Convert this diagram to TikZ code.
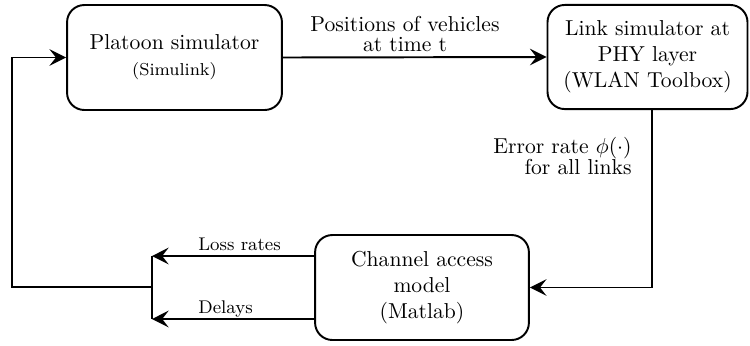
\documentclass[tikz,border=0pt]{standalone}
\usetikzlibrary{arrows.meta,calc}
\begin{document}
\begin{tikzpicture}[x=0.463pt,y=-0.463pt,
 blk/.style={draw,line width=0.9pt,rounded corners=8pt,align=center,inner sep=0pt},
 conn/.style={line width=0.9pt},
 arr/.style={conn,-{Stealth[length=7.7pt,width=7.7pt,inset=3pt]}},
 lab/.style={align=center,inner sep=0pt,font=\fontsize{10}{9}\selectfont},
 smalllab/.style={inner sep=0pt,anchor=base west,font=\fontsize{8.5}{10}\selectfont}]
\useasboundingbox (0,0) rectangle (750,345);
\node[blk,minimum width=99.5pt,minimum height=48.6pt] (plat) at (174.5,57.5) {Platoon simulator\\{\footnotesize(Simulink)}};
\node[blk,minimum width=92.6pt,minimum height=48.2pt] (link) at (647.5,57) {Link simulator at\\PHY layer\\(WLAN Toolbox)};
\node[blk,minimum width=99pt,minimum height=48.6pt] (chan) at (422,287.5) {Channel access\\model\\(Matlab)};
\draw[arr] (plat.east) -- (link.west);
\node[lab] (pos) at (405,34) {Positions of vehicles\\at time t};
\coordinate (ls) at ($(link.south)+(4.5,0)$);
\draw[arr] (ls) |- (chan.east);
\node[lab,align=right,anchor=east,font=\fontsize{10}{9.7}\selectfont] (err) at (632,156) {Error rate $\phi(\cdot)$\\for all links};
\coordinate (lt) at (152,256);
\coordinate (lb) at (152,319);
\draw[arr] (chan.west |- lt) -- (lt);
\draw[arr] (chan.west |- lb) -- (lb);
\draw[conn] (lt) -- (lb);
\coordinate (lm) at (152,287);
\coordinate (fb) at (12,287);
\draw[arr] (lm) -- (fb) |- (plat.west);
\node[smalllab] (loss) at (198,250) {Loss rates};
\node[smalllab] (del) at (198,313) {Delays};
\end{tikzpicture}
\end{document}
